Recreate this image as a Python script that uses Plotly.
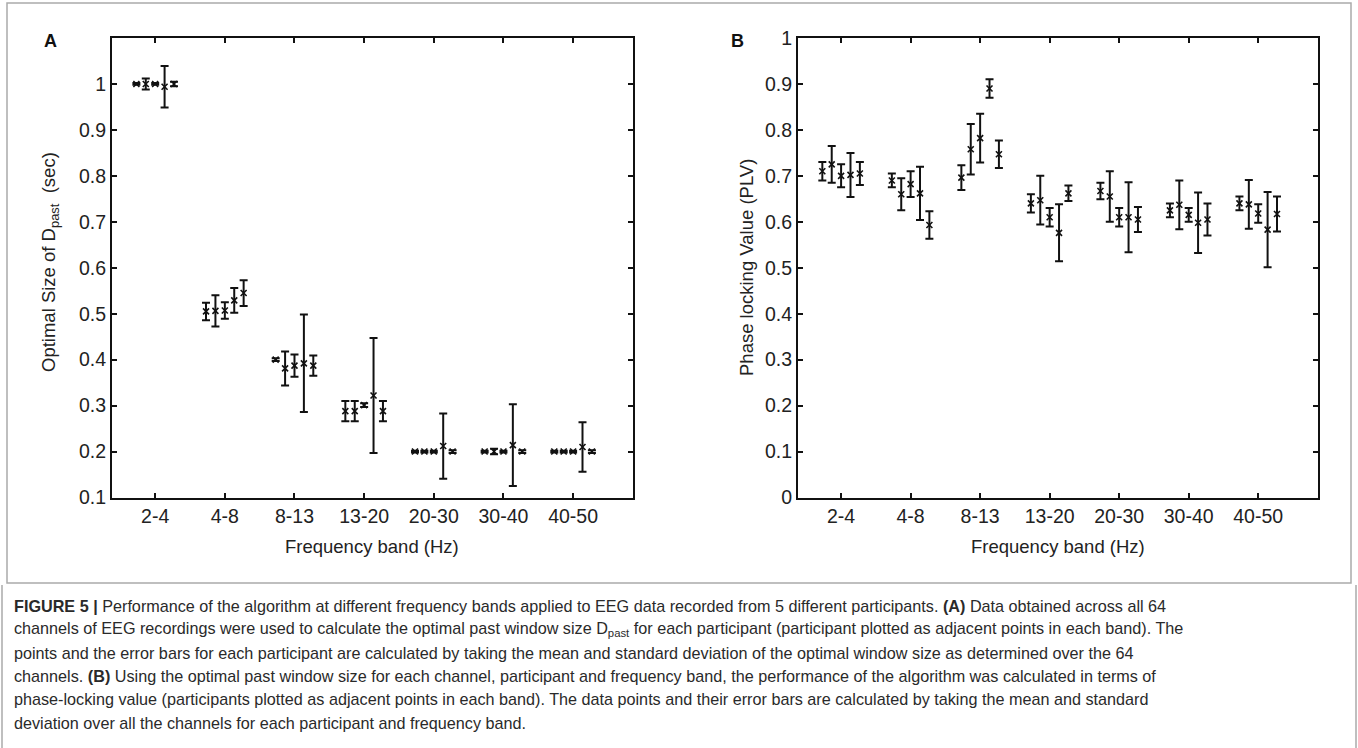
import plotly.graph_objects as go

# Frequency bands on the x axis
bands = ["2-4", "4-8", "8-13", "13-20", "20-30", "30-40", "40-50"]

# Panel A: optimal past window size D_past (sec), mean and SD per band (rows) and participant (columns)
dpast_mean = [
    [1.000, 1.000, 1.000, 0.994, 1.000],
    [0.505, 0.506, 0.507, 0.529, 0.545],
    [0.400, 0.381, 0.387, 0.392, 0.387],
    [0.288, 0.288, 0.301, 0.322, 0.288],
    [0.200, 0.200, 0.200, 0.212, 0.200],
    [0.200, 0.200, 0.200, 0.214, 0.200],
    [0.200, 0.200, 0.200, 0.210, 0.200],
]
dpast_sd = [
    [0.002, 0.012, 0.002, 0.045, 0.005],
    [0.019, 0.034, 0.018, 0.027, 0.028],
    [0.003, 0.037, 0.024, 0.106, 0.022],
    [0.022, 0.022, 0.004, 0.125, 0.022],
    [0.002, 0.002, 0.002, 0.071, 0.003],
    [0.002, 0.006, 0.002, 0.089, 0.003],
    [0.002, 0.002, 0.002, 0.054, 0.003],
]

# Panel B: phase locking value (PLV), mean and SD per band and participant
plv_mean = [
    [0.710, 0.725, 0.700, 0.702, 0.705],
    [0.690, 0.660, 0.682, 0.662, 0.593],
    [0.696, 0.758, 0.782, 0.890, 0.747],
    [0.640, 0.647, 0.610, 0.576, 0.662],
    [0.667, 0.655, 0.610, 0.610, 0.605],
    [0.625, 0.637, 0.615, 0.598, 0.605],
    [0.640, 0.638, 0.618, 0.583, 0.617],
]
plv_sd = [
    [0.020, 0.040, 0.025, 0.048, 0.025],
    [0.015, 0.035, 0.028, 0.058, 0.030],
    [0.027, 0.055, 0.053, 0.020, 0.030],
    [0.020, 0.053, 0.020, 0.062, 0.017],
    [0.018, 0.055, 0.020, 0.076, 0.027],
    [0.015, 0.053, 0.015, 0.066, 0.035],
    [0.015, 0.053, 0.020, 0.082, 0.038],
]

W, H = 1358, 748
FONT = "Liberation Sans, Arial, Helvetica, sans-serif"
OFFSETS = [-0.27, -0.135, 0.0, 0.135, 0.27]   # participants side by side within a band


def px(x):
    return x / W


def py(y):
    return 1 - y / H


fig = go.Figure()


def add_panel(means, sds, xa, ya):
    n_part = len(means[0])
    for p in range(n_part):
        xs = [i + 1 + OFFSETS[p] for i in range(len(bands))]
        ys = [row[p] for row in means]
        es = [row[p] for row in sds]
        fig.add_trace(go.Scatter(
            x=xs, y=ys, mode="markers", xaxis=xa, yaxis=ya, showlegend=False,
            marker=dict(symbol="x-thin", size=6, color="#111",
                        line=dict(width=1.6, color="#111")),
            error_y=dict(type="data", array=es, visible=True, color="#111",
                         thickness=2, width=4),
        ))


add_panel(dpast_mean, dpast_sd, "x", "y")
add_panel(plv_mean, plv_sd, "x2", "y2")

y_dom = [py(497.5), py(38)]
axis_common = dict(
    showline=True, linecolor="#111", linewidth=2, mirror="ticks",
    ticks="inside", ticklen=5, tickwidth=1.5, tickcolor="#111",
    showgrid=False, zeroline=False, automargin=False,
    tickfont=dict(family=FONT, size=19.5, color="#222"),
)

fig.update_layout(
    width=W, height=H, margin=dict(l=0, r=0, t=0, b=0),
    paper_bgcolor="white", plot_bgcolor="white",
    xaxis=dict(domain=[px(112), px(633)], range=[0.38, 7.86], anchor="y",
               tickvals=list(range(1, 8)), ticktext=bands, **axis_common),
    yaxis=dict(domain=y_dom, range=[0.1, 1.1], anchor="x",
               tickvals=[0.1, 0.2, 0.3, 0.4, 0.5, 0.6, 0.7, 0.8, 0.9, 1.0],
               ticktext=["0.1", "0.2", "0.3", "0.4", "0.5", "0.6", "0.7", "0.8", "0.9", "1"],
               **axis_common),
    xaxis2=dict(domain=[px(798), px(1318)], range=[0.38, 7.86], anchor="y2",
                tickvals=list(range(1, 8)), ticktext=bands, **axis_common),
    yaxis2=dict(domain=y_dom, range=[0, 1], anchor="x2",
                tickvals=[0, 0.1, 0.2, 0.3, 0.4, 0.5, 0.6, 0.7, 0.8, 0.9, 1.0],
                ticktext=["0", "0.1", "0.2", "0.3", "0.4", "0.5", "0.6", "0.7", "0.8", "0.9", "1"],
                **axis_common),
)

ann = []
title_font = dict(family=FONT, size=18.5, color="#222")


def label(x, y, text, font, angle=0):
    ann.append(dict(x=px(x), y=py(y), text=text, showarrow=False, textangle=angle,
                    xanchor="center", yanchor="middle",
                    xref="paper", yref="paper", font=font))


# axis titles
label(372, 546, "Frequency band (Hz)", title_font)
label(1058, 546, "Frequency band (Hz)", title_font)
label(50, 262, "Optimal Size of D<sub>past</sub>  (sec)", title_font, -90)
label(746, 268, "Phase locking Value (PLV)", title_font, -90)
# panel letters
letter_font = dict(family=FONT, size=18, color="#111")
label(50, 41, "<b>A</b>", letter_font)
label(737, 41, "<b>B</b>", letter_font)

caption = [
    "<b>FIGURE 5 |</b> Performance of the algorithm at different frequency bands applied to EEG data recorded from 5 different participants. <b>(A)</b> Data obtained across all 64",
    "channels of EEG recordings were used to calculate the optimal past window size D<sub>past</sub> for each participant (participant plotted as adjacent points in each band). The",
    "points and the error bars for each participant are calculated by taking the mean and standard deviation of the optimal window size as determined over the 64",
    "channels. <b>(B)</b> Using the optimal past window size for each channel, participant and frequency band, the performance of the algorithm was calculated in terms of",
    "phase-locking value (participants plotted as adjacent points in each band). The data points and their error bars are calculated by taking the mean and standard",
    "deviation over all the channels for each participant and frequency band.",
]
for i, line in enumerate(caption):
    ann.append(dict(x=px(12), y=py(606 + i * 23.3), text=line, showarrow=False,
                    xanchor="left", yanchor="middle", xref="paper", yref="paper",
                    font=dict(family=FONT, size=16.2, color="#2a2a2a")))
fig.update_layout(annotations=ann)

# frame around the figure area and the caption box edges
shapes = [
    dict(type="rect", xref="paper", yref="paper", x0=px(7), x1=px(1351), y0=py(583), y1=py(3),
         line=dict(color="#aaa", width=1.5)),
    dict(type="line", xref="paper", yref="paper", x0=px(2), x1=px(2), y0=py(748), y1=py(585),
         line=dict(color="#aaa", width=1.5)),
    dict(type="line", xref="paper", yref="paper", x0=px(1356), x1=px(1356), y0=py(748), y1=py(585),
         line=dict(color="#aaa", width=1.5)),
]
fig.update_layout(shapes=shapes)

fig.write_html("out.html")
